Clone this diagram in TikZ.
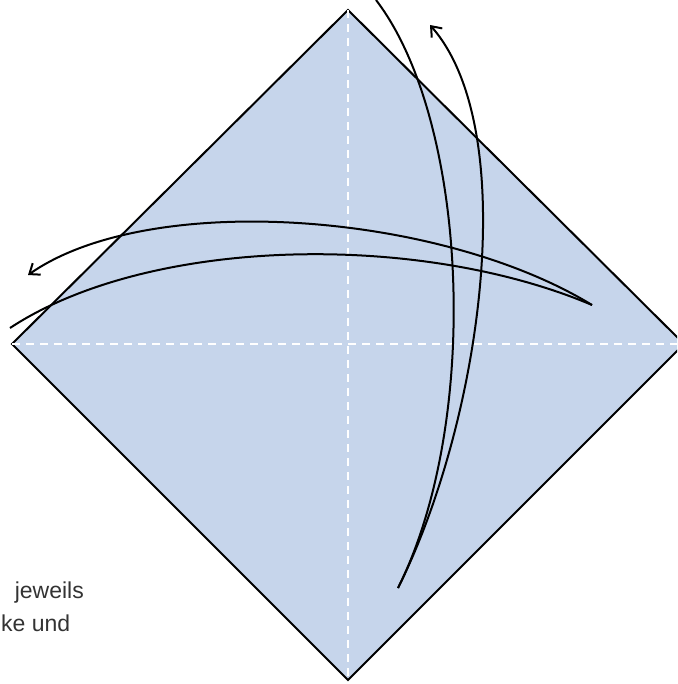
\documentclass[tikz,border=0pt]{standalone}
\usepackage{fontspec}
\setmainfont{Liberation Sans}
\usetikzlibrary{arrows.meta}

\definecolor{paper}{HTML}{C6D5EB}
\definecolor{textgray}{HTML}{333333}

\begin{document}
\begin{tikzpicture}[
  x=1pt,y=-1pt,
  edge/.style={line width=2pt,line join=miter},
  fold/.style={white,line width=1.4pt,dash pattern=on 8pt off 6pt},
  move/.style={line width=2pt},
  arrow/.style={move,-{Straight Barb[length=9pt,width=14pt]}},
  caption/.style={font=\fontsize{23}{28}\selectfont,text=textgray,
    inner sep=0pt}
]
\useasboundingbox (0,0) rectangle (677,684);
\clip (0,0) rectangle (677,684);

\coordinate (top) at (348,10);
\coordinate (east) at (684,344);
\coordinate (bottom) at (348,680);
\coordinate (west) at (12,344);

\filldraw[edge,fill=paper] (top) -- (east) -- (bottom) -- (west) -- cycle;
\draw[fold] (top) -- (bottom);
\draw[fold] (west) -- (east);

% vertical flap
\coordinate (vstart) at (376,0);
\coordinate (vtip) at (398,588);
\coordinate (vend) at (430,25);
\draw[move] (vstart) .. controls (468,120) and (482,420) .. (vtip);
\draw[arrow] (vtip) .. controls (482,420) and (522,130) .. (vend);

% horizontal flap
\coordinate (hstart) at (10,328);
\coordinate (htip) at (592,305);
\coordinate (hend) at (28,275);
\draw[move] (hstart) .. controls (150,236) and (420,232) .. (htip);
\draw[arrow] (htip) .. controls (440,212) and (150,190) .. (hend);

\node[caption,anchor=base east] (line1) at (84,598) {jeweils};
\node[caption,anchor=base west] (line2) at (1,631) {ke und};
\end{tikzpicture}
\end{document}
